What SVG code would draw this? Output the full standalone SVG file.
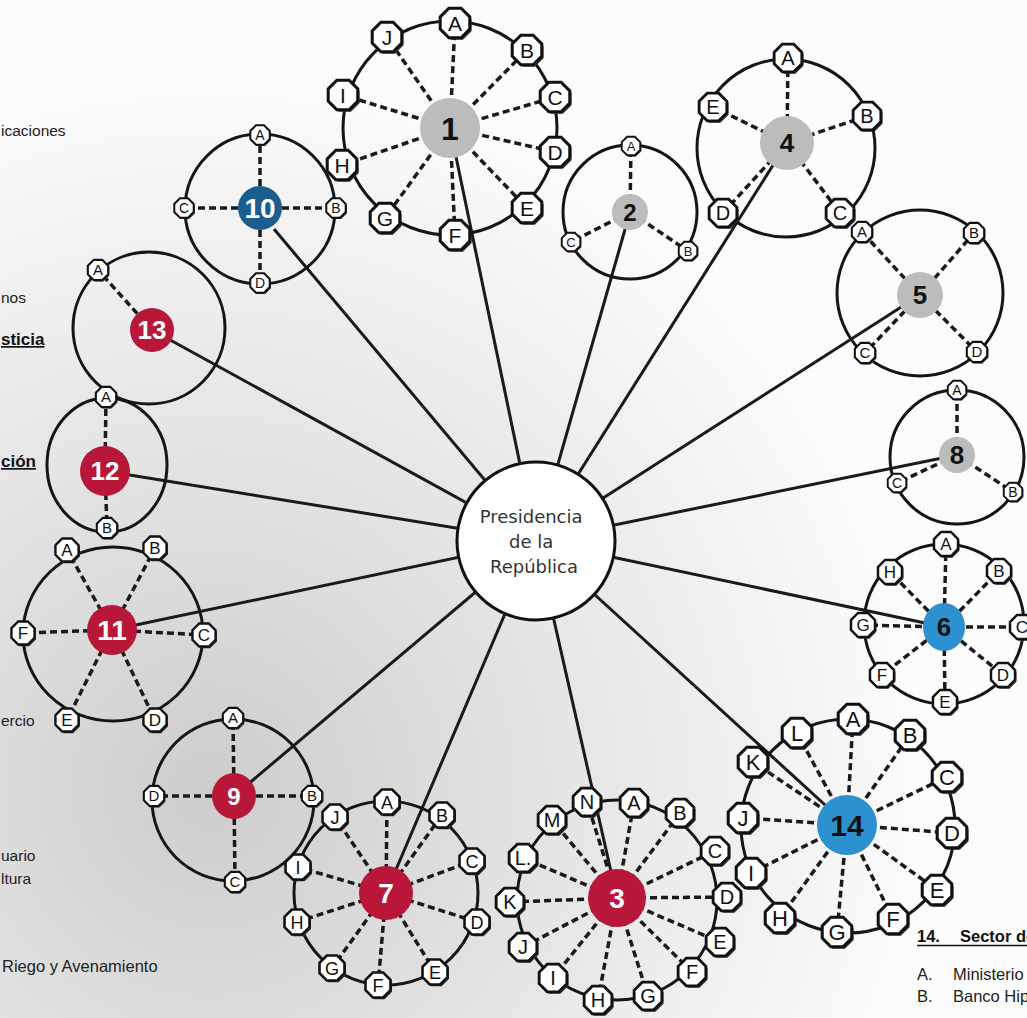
<svg xmlns="http://www.w3.org/2000/svg" xmlns:xlink="http://www.w3.org/1999/xlink" width="1027" height="1018" viewBox="0 0 1027 1018">
<defs>
<radialGradient id="bg" cx="210" cy="790" r="720" gradientUnits="userSpaceOnUse">
<stop offset="0" stop-color="#cdcdcd"/>
<stop offset="0.45" stop-color="#e3e3e3"/>
<stop offset="1" stop-color="#fcfcfc"/>
</radialGradient>
<g id="o">
<polygon points="9.24,3.83 3.83,9.24 -3.83,9.24 -9.24,3.83 -9.24,-3.83 -3.83,-9.24 3.83,-9.24 9.24,-3.83" fill="#333" transform="translate(1.1,1.3)"/>
<polygon points="9.24,3.83 3.83,9.24 -3.83,9.24 -9.24,3.83 -9.24,-3.83 -3.83,-9.24 3.83,-9.24 9.24,-3.83" fill="#fff" stroke="#111" stroke-width="1.9"/>
</g>
<style>
.ring{fill:none;stroke:#151515;stroke-width:3}
.sp{stroke:#1a1a1a;stroke-width:3.5;stroke-dasharray:7 4;fill:none}
.cn{stroke:#1a1a1a;stroke-width:3;fill:none}
.lt{font-family:"Liberation Sans",Arial,sans-serif;text-anchor:middle;fill:#111}
.hn{font-family:"Liberation Sans",Arial,sans-serif;font-weight:bold;text-anchor:middle}
.gray{fill:#bcbcbc}
.red{fill:#b8173a}
.blue{fill:#2d91d0}
.dblue{fill:#1b5d8e}
.side{font-family:"Liberation Sans",Arial,sans-serif;font-size:15.5px;fill:#222}
.sr{font-size:16.5px}
.sb{font-weight:bold;font-size:17px;text-decoration:underline;fill:#111}
.lb{font-family:"Liberation Sans",Arial,sans-serif;font-size:16.5px;font-weight:bold;fill:#111}
</style>
</defs>
<rect width="1027" height="1018" fill="url(#bg)"/>

<g id="legend-fragments">
<text class="side" x="1" y="136">icaciones</text>
<text class="side" x="1" y="303">nos</text>
<text class="side sb" x="1" y="345">sticia</text>
<text class="side sb" x="1" y="467">ción</text>
<text class="side" x="1" y="726">ercio</text>
<text class="side" x="1" y="861">uario</text>
<text class="side" x="1" y="884">ltura</text>
<text class="side sr" x="2" y="972">Riego y Avenamiento</text>
<text class="lb" x="917" y="942">14.</text>
<text class="lb" x="960" y="942">Sector de</text>
<line x1="917" y1="945.5" x2="1027" y2="945.5" stroke="#111" stroke-width="1.6"/>
<text class="side sr" x="917" y="980">A.</text><text class="side sr" x="953" y="980">Ministerio</text>
<text class="side sr" x="917" y="1002">B.</text><text class="side sr" x="953" y="1002">Banco Hip</text>
</g>

<g id="connectors">
<line class="cn" x1="450" y1="128" x2="536" y2="541"/>
<line class="cn" x1="630" y1="212" x2="536" y2="541"/>
<line class="cn" x1="787" y1="143" x2="536" y2="541"/>
<line class="cn" x1="920" y1="295" x2="536" y2="541"/>
<line class="cn" x1="957" y1="455" x2="536" y2="541"/>
<line class="cn" x1="944" y1="627" x2="536" y2="541"/>
<line class="cn" x1="847" y1="825" x2="536" y2="541"/>
<line class="cn" x1="617" y1="898" x2="536" y2="541"/>
<line class="cn" x1="386" y1="893" x2="536" y2="541"/>
<line class="cn" x1="234" y1="796" x2="536" y2="541"/>
<line class="cn" x1="112" y1="630" x2="536" y2="541"/>
<line class="cn" x1="105" y1="471" x2="536" y2="541"/>
<line class="cn" x1="152" y1="330" x2="536" y2="541"/>
<line class="cn" x1="274" y1="229" x2="536" y2="541"/>
</g>

<g id="n1">
<circle class="ring" cx="450" cy="128" r="107"/>
<path class="sp" d="M450 128L455 23M450 128L527 50M450 128L555 97M450 128L555 152M450 128L527 208M450 128L455 235M450 128L385 218M450 128L342 165M450 128L343 95M450 128L387 37"/>
<circle class="gray" cx="450" cy="128" r="30"/>
<text class="hn" x="450" y="139.5" font-size="32" fill="#111">1</text>
<use xlink:href="#o" transform="translate(455,23) scale(1.6)"/><text class="lt" x="455" y="30.5" font-size="21">A</text>
<use xlink:href="#o" transform="translate(527,50) scale(1.6)"/><text class="lt" x="527" y="57.5" font-size="21">B</text>
<use xlink:href="#o" transform="translate(555,97) scale(1.6)"/><text class="lt" x="555" y="104.5" font-size="21">C</text>
<use xlink:href="#o" transform="translate(555,152) scale(1.6)"/><text class="lt" x="555" y="159.5" font-size="21">D</text>
<use xlink:href="#o" transform="translate(527,208) scale(1.6)"/><text class="lt" x="527" y="215.5" font-size="21">E</text>
<use xlink:href="#o" transform="translate(455,235) scale(1.6)"/><text class="lt" x="455" y="242.5" font-size="21">F</text>
<use xlink:href="#o" transform="translate(385,218) scale(1.6)"/><text class="lt" x="385" y="225.5" font-size="21">G</text>
<use xlink:href="#o" transform="translate(342,165) scale(1.6)"/><text class="lt" x="342" y="172.5" font-size="21">H</text>
<use xlink:href="#o" transform="translate(343,95) scale(1.6)"/><text class="lt" x="343" y="102.5" font-size="21">I</text>
<use xlink:href="#o" transform="translate(387,37) scale(1.6)"/><text class="lt" x="387" y="44.5" font-size="21">J</text>
</g>

<g id="n2">
<circle class="ring" cx="630" cy="212" r="67"/>
<path class="sp" d="M630 212L631 146M630 212L688 251M630 212L571 242"/>
<circle class="gray" cx="630" cy="212" r="18"/>
<text class="hn" x="630" y="220.6" font-size="24" fill="#111">2</text>
<use xlink:href="#o" transform="translate(631,146) scale(1)"/><text class="lt" x="631" y="150.7" font-size="13">A</text>
<use xlink:href="#o" transform="translate(688,251) scale(1)"/><text class="lt" x="688" y="255.7" font-size="13">B</text>
<use xlink:href="#o" transform="translate(571,242) scale(1)"/><text class="lt" x="571" y="246.7" font-size="13">C</text>
</g>

<g id="n4">
<circle class="ring" cx="786" cy="148" r="89"/>
<path class="sp" d="M787 143L788 58M787 143L867 116M787 143L840 213M787 143L723 213M787 143L713 107"/>
<circle class="gray" cx="787" cy="143" r="27"/>
<text class="hn" x="787" y="152.4" font-size="26" fill="#111">4</text>
<use xlink:href="#o" transform="translate(788,58) scale(1.5)"/><text class="lt" x="788" y="65" font-size="20">A</text>
<use xlink:href="#o" transform="translate(867,116) scale(1.5)"/><text class="lt" x="867" y="123" font-size="20">B</text>
<use xlink:href="#o" transform="translate(840,213) scale(1.5)"/><text class="lt" x="840" y="220" font-size="20">C</text>
<use xlink:href="#o" transform="translate(723,213) scale(1.5)"/><text class="lt" x="723" y="220" font-size="20">D</text>
<use xlink:href="#o" transform="translate(713,107) scale(1.5)"/><text class="lt" x="713" y="114" font-size="20">E</text>
</g>

<g id="n5">
<circle class="ring" cx="920" cy="293" r="83"/>
<path class="sp" d="M920 295L862 232M920 295L974 233M920 295L865 353M920 295L977 352"/>
<circle class="gray" cx="920" cy="295" r="23"/>
<text class="hn" x="920" y="304.4" font-size="26" fill="#111">5</text>
<use xlink:href="#o" transform="translate(862,232) scale(1.1)"/><text class="lt" x="862" y="237.4" font-size="15">A</text>
<use xlink:href="#o" transform="translate(974,233) scale(1.1)"/><text class="lt" x="974" y="238.4" font-size="15">B</text>
<use xlink:href="#o" transform="translate(865,353) scale(1.1)"/><text class="lt" x="865" y="358.4" font-size="15">C</text>
<use xlink:href="#o" transform="translate(977,352) scale(1.1)"/><text class="lt" x="977" y="357.4" font-size="15">D</text>
</g>

<g id="n8">
<circle class="ring" cx="957" cy="457" r="67"/>
<path class="sp" d="M957 455L957 390M957 455L1013 492M957 455L897 483"/>
<circle class="gray" cx="957" cy="455" r="18"/>
<text class="hn" x="957" y="464.4" font-size="26" fill="#111">8</text>
<use xlink:href="#o" transform="translate(957,390) scale(1)"/><text class="lt" x="957" y="395" font-size="14">A</text>
<use xlink:href="#o" transform="translate(1013,492) scale(1)"/><text class="lt" x="1013" y="497" font-size="14">B</text>
<use xlink:href="#o" transform="translate(897,483) scale(1)"/><text class="lt" x="897" y="488" font-size="14">C</text>
</g>

<g id="n6">
<circle class="ring" cx="944" cy="624" r="80"/>
<path class="sp" d="M944 627L946 544M944 627L999 571M944 627L1022 627M944 627L1003 675M944 627L945 702M944 627L882 675M944 627L863 625M944 627L890 572"/>
<ellipse class="blue" cx="944" cy="627" rx="21" ry="24"/>
<text class="hn" x="944" y="636.4" font-size="26" fill="#111">6</text>
<use xlink:href="#o" transform="translate(946,544) scale(1.3)"/><text class="lt" x="946" y="550" font-size="17">A</text>
<use xlink:href="#o" transform="translate(999,571) scale(1.3)"/><text class="lt" x="999" y="577" font-size="17">B</text>
<use xlink:href="#o" transform="translate(1022,627) scale(1.3)"/><text class="lt" x="1022" y="633" font-size="17">C</text>
<use xlink:href="#o" transform="translate(1003,675) scale(1.3)"/><text class="lt" x="1003" y="681" font-size="17">D</text>
<use xlink:href="#o" transform="translate(945,702) scale(1.3)"/><text class="lt" x="945" y="708" font-size="17">E</text>
<use xlink:href="#o" transform="translate(882,675) scale(1.3)"/><text class="lt" x="882" y="681" font-size="17">F</text>
<use xlink:href="#o" transform="translate(863,625) scale(1.3)"/><text class="lt" x="863" y="631" font-size="17">G</text>
<use xlink:href="#o" transform="translate(890,572) scale(1.3)"/><text class="lt" x="890" y="578" font-size="17">H</text>
</g>

<g id="n14">
<circle class="ring" cx="848" cy="826" r="107"/>
<path class="sp" d="M847 825L853 719M847 825L910 735M847 825L947 777M847 825L952 833M847 825L937 890M847 825L893 919M847 825L837 932M847 825L780 918M847 825L751 873M847 825L743 818M847 825L753 762M847 825L797 733"/>
<circle class="blue" cx="847" cy="825" r="30"/>
<text class="hn" x="847" y="835.8" font-size="30" fill="#111">14</text>
<use xlink:href="#o" transform="translate(853,719) scale(1.6)"/><text class="lt" x="853" y="727" font-size="22">A</text>
<use xlink:href="#o" transform="translate(910,735) scale(1.6)"/><text class="lt" x="910" y="743" font-size="22">B</text>
<use xlink:href="#o" transform="translate(947,777) scale(1.6)"/><text class="lt" x="947" y="785" font-size="22">C</text>
<use xlink:href="#o" transform="translate(952,833) scale(1.6)"/><text class="lt" x="952" y="841" font-size="22">D</text>
<use xlink:href="#o" transform="translate(937,890) scale(1.6)"/><text class="lt" x="937" y="898" font-size="22">E</text>
<use xlink:href="#o" transform="translate(893,919) scale(1.6)"/><text class="lt" x="893" y="927" font-size="22">F</text>
<use xlink:href="#o" transform="translate(837,932) scale(1.6)"/><text class="lt" x="837" y="940" font-size="22">G</text>
<use xlink:href="#o" transform="translate(780,918) scale(1.6)"/><text class="lt" x="780" y="926" font-size="22">H</text>
<use xlink:href="#o" transform="translate(751,873) scale(1.6)"/><text class="lt" x="751" y="881" font-size="22">I</text>
<use xlink:href="#o" transform="translate(743,818) scale(1.6)"/><text class="lt" x="743" y="826" font-size="22">J</text>
<use xlink:href="#o" transform="translate(753,762) scale(1.6)"/><text class="lt" x="753" y="770" font-size="22">K</text>
<use xlink:href="#o" transform="translate(797,733) scale(1.6)"/><text class="lt" x="797" y="741" font-size="22">L</text>
</g>

<g id="n3">
<circle class="ring" cx="617" cy="900" r="100"/>
<path class="sp" d="M617 898L587 802M617 898L634 803M617 898L680 813M617 898L715 851M617 898L727 897M617 898L720 942M617 898L692 972M617 898L648 996M617 898L598 1000M617 898L553 978M617 898L523 947M617 898L510 902M617 898L523 858M617 898L552 820"/>
<circle class="red" cx="617" cy="898" r="29"/>
<text class="hn" x="617" y="908" font-size="28" fill="#fff">3</text>
<use xlink:href="#o" transform="translate(587,802) scale(1.5)"/><text class="lt" x="587" y="809" font-size="20">N</text>
<use xlink:href="#o" transform="translate(634,803) scale(1.5)"/><text class="lt" x="634" y="810" font-size="20">A</text>
<use xlink:href="#o" transform="translate(680,813) scale(1.5)"/><text class="lt" x="680" y="820" font-size="20">B</text>
<use xlink:href="#o" transform="translate(715,851) scale(1.5)"/><text class="lt" x="715" y="858" font-size="20">C</text>
<use xlink:href="#o" transform="translate(727,897) scale(1.5)"/><text class="lt" x="727" y="904" font-size="20">D</text>
<use xlink:href="#o" transform="translate(720,942) scale(1.5)"/><text class="lt" x="720" y="949" font-size="20">E</text>
<use xlink:href="#o" transform="translate(692,972) scale(1.5)"/><text class="lt" x="692" y="979" font-size="20">F</text>
<use xlink:href="#o" transform="translate(648,996) scale(1.5)"/><text class="lt" x="648" y="1003" font-size="20">G</text>
<use xlink:href="#o" transform="translate(598,1000) scale(1.5)"/><text class="lt" x="598" y="1007" font-size="20">H</text>
<use xlink:href="#o" transform="translate(553,978) scale(1.5)"/><text class="lt" x="553" y="985" font-size="20">I</text>
<use xlink:href="#o" transform="translate(523,947) scale(1.5)"/><text class="lt" x="523" y="954" font-size="20">J</text>
<use xlink:href="#o" transform="translate(510,902) scale(1.5)"/><text class="lt" x="510" y="909" font-size="20">K</text>
<use xlink:href="#o" transform="translate(523,858) scale(1.5)"/><text class="lt" x="523" y="865" font-size="20">L.</text>
<use xlink:href="#o" transform="translate(552,820) scale(1.5)"/><text class="lt" x="552" y="827" font-size="20">M</text>
</g>

<g id="n7">
<circle class="ring" cx="386" cy="893" r="92"/>
<path class="sp" d="M386 893L387 802M386 893L442 815M386 893L472 861M386 893L477 922M386 893L435 972M386 893L378 985M386 893L332 968M386 893L297 922M386 893L298 867M386 893L335 817"/>
<circle class="red" cx="386" cy="893" r="27"/>
<text class="hn" x="386" y="903" font-size="28" fill="#fff">7</text>
<use xlink:href="#o" transform="translate(387,802) scale(1.35)"/><text class="lt" x="387" y="808.5" font-size="18">A</text>
<use xlink:href="#o" transform="translate(442,815) scale(1.35)"/><text class="lt" x="442" y="821.5" font-size="18">B</text>
<use xlink:href="#o" transform="translate(472,861) scale(1.35)"/><text class="lt" x="472" y="867.5" font-size="18">C</text>
<use xlink:href="#o" transform="translate(477,922) scale(1.35)"/><text class="lt" x="477" y="928.5" font-size="18">D</text>
<use xlink:href="#o" transform="translate(435,972) scale(1.35)"/><text class="lt" x="435" y="978.5" font-size="18">E</text>
<use xlink:href="#o" transform="translate(378,985) scale(1.35)"/><text class="lt" x="378" y="991.5" font-size="18">F</text>
<use xlink:href="#o" transform="translate(332,968) scale(1.35)"/><text class="lt" x="332" y="974.5" font-size="18">G</text>
<use xlink:href="#o" transform="translate(297,922) scale(1.35)"/><text class="lt" x="297" y="928.5" font-size="18">H</text>
<use xlink:href="#o" transform="translate(298,867) scale(1.35)"/><text class="lt" x="298" y="873.5" font-size="18">I</text>
<use xlink:href="#o" transform="translate(335,817) scale(1.35)"/><text class="lt" x="335" y="823.5" font-size="18">J</text>
</g>

<g id="n9">
<circle class="ring" cx="233" cy="800" r="81"/>
<path class="sp" d="M234 796L233 718M234 796L312 796M234 796L235 882M234 796L154 796"/>
<ellipse class="red" cx="234" cy="796" rx="22" ry="23"/>
<text class="hn" x="234" y="804.6" font-size="24" fill="#fff">9</text>
<use xlink:href="#o" transform="translate(233,718) scale(1.1)"/><text class="lt" x="233" y="723.4" font-size="15">A</text>
<use xlink:href="#o" transform="translate(312,796) scale(1.1)"/><text class="lt" x="312" y="801.4" font-size="15">B</text>
<use xlink:href="#o" transform="translate(235,882) scale(1.1)"/><text class="lt" x="235" y="887.4" font-size="15">C</text>
<use xlink:href="#o" transform="translate(154,796) scale(1.1)"/><text class="lt" x="154" y="801.4" font-size="15">D</text>
</g>

<g id="n11">
<ellipse class="ring" cx="113" cy="634" rx="90" ry="87"/>
<path class="sp" d="M112 630L67 550M112 630L155 548M112 630L204 635M112 630L155 720M112 630L67 720M112 630L23 633"/>
<circle class="red" cx="112" cy="630" r="25"/>
<text class="hn" x="112" y="640" font-size="28" fill="#fff">11</text>
<use xlink:href="#o" transform="translate(67,550) scale(1.25)"/><text class="lt" x="67" y="556" font-size="17">A</text>
<use xlink:href="#o" transform="translate(155,548) scale(1.25)"/><text class="lt" x="155" y="554" font-size="17">B</text>
<use xlink:href="#o" transform="translate(204,635) scale(1.25)"/><text class="lt" x="204" y="641" font-size="17">C</text>
<use xlink:href="#o" transform="translate(155,720) scale(1.25)"/><text class="lt" x="155" y="726" font-size="17">D</text>
<use xlink:href="#o" transform="translate(67,720) scale(1.25)"/><text class="lt" x="67" y="726" font-size="17">E</text>
<use xlink:href="#o" transform="translate(23,633) scale(1.25)"/><text class="lt" x="23" y="639" font-size="17">F</text>
</g>

<g id="n10">
<circle class="ring" cx="260" cy="209" r="75"/>
<path class="sp" d="M260 208L260 135M260 208L336 208M260 208L184 208M260 208L260 283"/>
<circle class="dblue" cx="260" cy="208" r="22"/>
<text class="hn" x="260" y="218" font-size="28" fill="#fff">10</text>
<use xlink:href="#o" transform="translate(260,135) scale(1.05)"/><text class="lt" x="260" y="140" font-size="14">A</text>
<use xlink:href="#o" transform="translate(336,208) scale(1.05)"/><text class="lt" x="336" y="213" font-size="14">B</text>
<use xlink:href="#o" transform="translate(184,208) scale(1.05)"/><text class="lt" x="184" y="213" font-size="14">C</text>
<use xlink:href="#o" transform="translate(260,283) scale(1.05)"/><text class="lt" x="260" y="288" font-size="14">D</text>
</g>

<g id="n13">
<circle class="ring" cx="149" cy="328" r="76"/>
<path class="sp" d="M152 330L98 270"/>
<circle class="red" cx="152" cy="330" r="22"/>
<text class="hn" x="152" y="339.4" font-size="26" fill="#fff">13</text>
<use xlink:href="#o" transform="translate(98,270) scale(1.1)"/><text class="lt" x="98" y="275.4" font-size="15">A</text>
</g>

<g id="n12">
<ellipse class="ring" cx="107" cy="465" rx="60" ry="67"/>
<path class="sp" d="M105 471L106 397M105 471L107 528"/>
<circle class="red" cx="105" cy="471" r="25"/>
<text class="hn" x="105" y="480.4" font-size="26" fill="#fff">12</text>
<use xlink:href="#o" transform="translate(106,397) scale(1.1)"/><text class="lt" x="106" y="402.4" font-size="15">A</text>
<use xlink:href="#o" transform="translate(107,528) scale(1.1)"/><text class="lt" x="107" y="533.4" font-size="15">B</text>
</g>

<g id="presidencia">
<circle cx="536" cy="541" r="79" fill="#fff" stroke="#111" stroke-width="3"/>
<text font-family="DejaVu Sans, sans-serif" font-size="18" fill="#333" text-anchor="middle">
<tspan x="534" y="523">Presidencia</tspan>
<tspan x="534" y="548">de la</tspan>
<tspan x="534" y="573">República</tspan>
</text>
</g>
</svg>
